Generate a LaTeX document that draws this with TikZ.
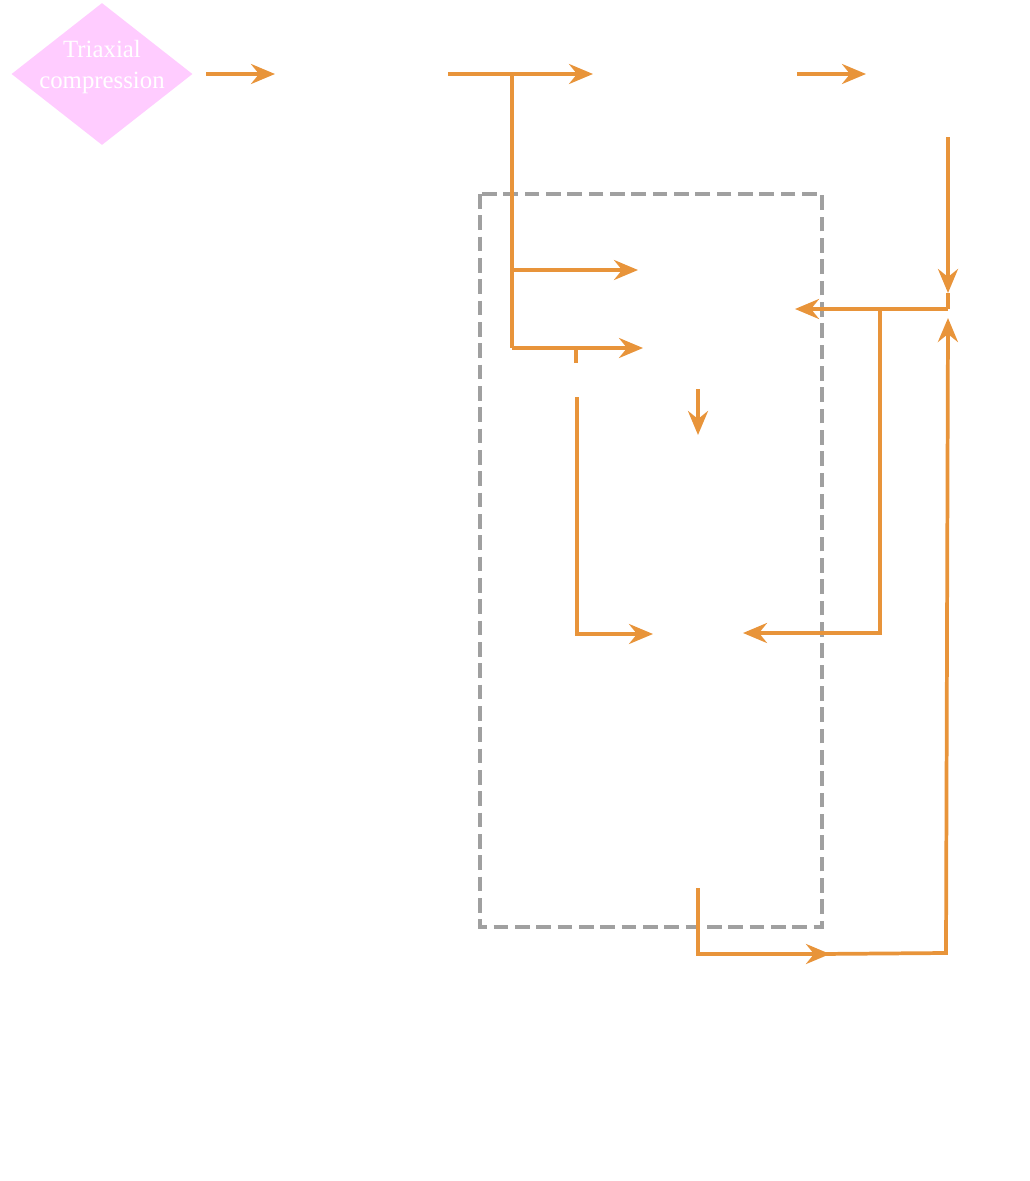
\documentclass[tikz,border=0pt]{standalone}
\usepackage{fontspec}
\setmainfont{Liberation Serif}
\usetikzlibrary{arrows.meta,shapes.geometric}
\definecolor{conncol}{RGB}{232,148,58}
\definecolor{boxcol}{RGB}{160,160,160}
\definecolor{pinkfill}{RGB}{255,204,255}
\tikzset{
  conn/.style={draw=conncol, line width=2.8pt},
  arr/.style={conn, -{Stealth[length=18pt,width=15pt,inset=6pt]}},
  groupbox/.style={draw=boxcol, line width=2.6pt, dash pattern=on 11pt off 5pt},
  decision/.style={diamond, fill=pinkfill, draw=none, inner sep=0pt,
    minimum width=135.75pt, minimum height=106.5pt},
  dlabel/.style={text=white, align=center, font=\fontsize{18.6}{23.5}\selectfont}
}
\begin{document}
\begin{tikzpicture}[x=0.75pt,y=-0.75pt]
\path[use as bounding box] (0,0) rectangle (1029,1181);
% dashed group box
\draw[groupbox] (480,194) rectangle (822,927);
% decision node
\node[decision] (tc) at (102,74) {};
\node[dlabel] (tct) at (102,67) {Triaxial\\compression};
% connector end points (invisible nodes)
\coordinate (a1s) at (206,74);
\coordinate (a1e) at (275,74);
\coordinate (a2s) at (448,74);
\coordinate (a2e) at (593,74);
\coordinate (br1) at (512,74);
\coordinate (b1) at (512,270);
\coordinate (b1e) at (638,270);
\coordinate (b2) at (512,348);
\coordinate (b2e) at (643,348);
\coordinate (a3s) at (797,74);
\coordinate (a3e) at (866,74);
\coordinate (v1s) at (948,137);
\coordinate (v1e) at (948,293);
\coordinate (h1s) at (948,309);
\coordinate (h1e) at (795,309);
\coordinate (br2) at (880,309);
\coordinate (h2e) at (743,633);
\coordinate (t1s) at (576,348);
\coordinate (t1e) at (576,363);
\coordinate (v2s) at (577,397);
\coordinate (h3e) at (653,634);
\coordinate (v3s) at (698,389);
\coordinate (v3e) at (698,435);
\coordinate (v4s) at (698,888);
\coordinate (mid) at (830,954);
\coordinate (crn) at (946,953);
\coordinate (v4e) at (948,318);
% connectors
\draw[arr] (a1s) -- (a1e);
\draw[arr] (a2s) -- (a2e);
\draw[conn] (br1) -- (b2);
\draw[arr] (b1) -- (b1e);
\draw[arr] (b2) -- (b2e);
\draw[arr] (a3s) -- (a3e);
\draw[arr] (v1s) -- (v1e);
\draw[conn] (v1e) -- (h1s);
\draw[arr] (h1s) -- (h1e);
\draw[arr] (br2) |- (h2e);
\draw[conn] (t1s) -- (t1e);
\draw[arr] (v2s) |- (h3e);
\draw[arr] (v3s) -- (v3e);
\draw[arr] (v4s) |- (mid);
\draw[arr] ([xshift=-8]mid) -- (crn) -- (v4e);
\end{tikzpicture}
\end{document}
